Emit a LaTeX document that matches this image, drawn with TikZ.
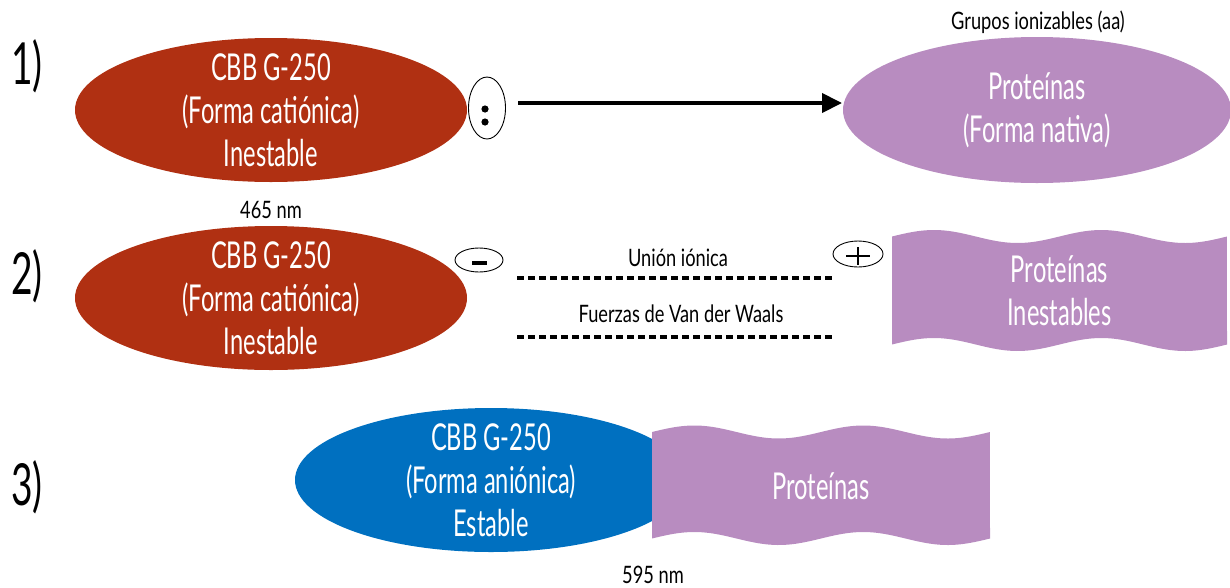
\documentclass[tikz,border=0pt]{standalone}
\usepackage{fontspec}
\usetikzlibrary{shapes.geometric,arrows.meta}
\newfontfamily\handf{Lato}[FakeStretch=0.64]
\newfontfamily\smallf{Lato}[FakeStretch=0.76]
\definecolor{cbbred}{HTML}{B03012}
\definecolor{cbbblue}{HTML}{0070C0}
\definecolor{protpurple}{HTML}{B88CC0}
\tikzset{
  bigtext/.style={font=\handf\fontsize{37}{43}\selectfont, text=white, align=center, inner sep=0pt},
  dyeell/.style={ellipse, draw=none, inner sep=0pt, minimum width=392pt, minimum height=144pt},
  protell/.style={ellipse, fill=protpurple, draw=none, inner sep=0pt, minimum width=388pt, minimum height=146pt},
  steplabel/.style={font=\handf\fontsize{58}{60}\selectfont, text=black},
  smalllabel/.style={font=\smallf\fontsize{24}{26}\selectfont, text=black},
  charge/.style={ellipse, draw=black, line width=0.9pt, inner sep=0pt, fill=white},
  bondline/.style={line width=3.6pt, dash pattern=on 7pt off 4pt},
}
\begin{document}
\begin{tikzpicture}[x=1pt,y=-1pt]
\useasboundingbox (0,0) rectangle (1230,587);

% step numbers
\node[steplabel] (n1) at (27,66) {1)};
\node[steplabel] (n2) at (27,276) {2)};
\node[steplabel] (n3) at (27,487) {3)};

% ---------- step 1 ----------
\node[dyeell, fill=cbbred] (cat1) at (271,110) {};
\node[bigtext] (cat1t) at (cat1.center) {CBB G-250\\(Forma catiónica)\\Inestable};
\node[smalllabel] (nm465) at (271,210) {465 nm};
\node[charge, minimum width=37pt, minimum height=62pt] (colon) at (487,108) {};
\fill (485,109) circle (3.6pt) (485,122) circle (3.6pt);
\node[protell] (nat) at (1037,110) {};
\node[bigtext] (natt) at (nat.center) {Proteínas\\(Forma nativa)};
\node[smalllabel] (grupos) at (1038,22) {Grupos ionizables (aa)};
\coordinate (arrS) at (518,103);
\coordinate (arrE) at (842,103);
\draw[line width=4pt, -{Triangle[length=20pt,width=19pt]}] (arrS) -- (arrE);

% ---------- step 2 ----------
\node[dyeell, fill=cbbred] (cat2) at (271,298) {};
\node[bigtext] (cat2t) at (cat2.center) {CBB G-250\\(Forma catiónica)\\Inestable};
\node[charge, minimum width=48pt, minimum height=24pt] (minus) at (479,260) {};
\draw[line width=4pt] (472,263) -- (487,263);
\node[charge, minimum width=50pt, minimum height=26pt] (plus) at (858,254) {};
\draw[line width=1.8pt] (846,256) -- (870,256) (858,247) -- (858,265);

\coordinate (b1s) at (517,278);
\coordinate (b1e) at (832,278);
\coordinate (b2s) at (517,337);
\coordinate (b2e) at (832,337);
\draw[bondline] (b1s) -- (b1e);
\draw[bondline] (b2s) -- (b2e);
\node[smalllabel] (ionic) at (678,258) {Unión iónica};
\node[smalllabel] (vdw) at (681,314) {Fuerzas de Van der Waals};

% wavy banner: unstable proteins
\fill[protpurple]
  plot[domain=0:1, samples=90] ({892+335*\x},{236.5-6.5*sin(720*\x)})
  -- plot[domain=0:1, samples=90] ({1227-335*\x},{344.5-6.5*sin(720*(1-\x))})
  -- cycle;
\node[bigtext] (inest) at (1059.5,291) {Proteínas\\Inestables};

% ---------- step 3 ----------
\node[dyeell, fill=cbbblue] (anion) at (491,480) {};
\fill[protpurple]
  plot[domain=0:1, samples=90] ({652+338*\x},{432-6.5*sin(720*\x)})
  -- plot[domain=0:1, samples=90] ({990-338*\x},{538.5-6.5*sin(720*(1-\x))})
  -- cycle;
\node[bigtext] (anlab) at (491,480) {CBB G-250\\(Forma aniónica)\\Estable};
\node[bigtext] (prot3) at (821,486) {Proteínas};
\node[smalllabel] (nm595) at (653,575) {595 nm};
\end{tikzpicture}
\end{document}
